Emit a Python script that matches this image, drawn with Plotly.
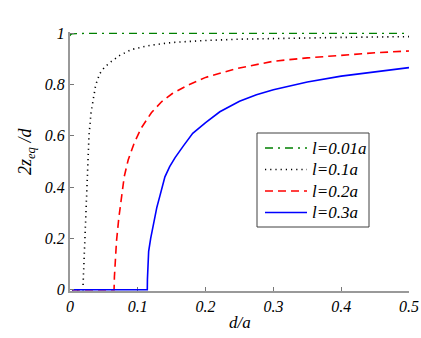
import plotly.graph_objects as go

# l = 0.01a
x_l001 = [0.0, 0.001, 0.003, 0.01, 0.05, 0.1, 0.2, 0.3, 0.4, 0.5]
y_l001 = [0.99, 0.995, 0.998, 0.999, 1.0, 1.0, 1.0, 1.0, 1.0, 1.0]

# l = 0.1a
x_l01 = [0.003, 0.019, 0.022, 0.025, 0.028, 0.031, 0.0345, 0.038, 0.044, 0.051, 0.059, 0.0735, 0.091, 0.118, 0.15, 0.2, 0.25, 0.3, 0.4, 0.5]
y_l01 = [0.0, 0.0, 0.2, 0.4, 0.6, 0.69, 0.75, 0.80, 0.843, 0.868, 0.886, 0.914, 0.937, 0.953, 0.964, 0.972, 0.977, 0.980, 0.984, 0.987]

# l = 0.2a
x_l02 = [0.003, 0.065, 0.0655, 0.0665, 0.0686, 0.072, 0.076, 0.080, 0.0858, 0.0946, 0.105, 0.12, 0.135, 0.151, 0.174, 0.2, 0.245, 0.3, 0.35, 0.4, 0.45, 0.5]
y_l02 = [0.0, 0.0, 0.05, 0.1, 0.19, 0.28, 0.37, 0.441, 0.506, 0.571, 0.63, 0.69, 0.733, 0.765, 0.798, 0.828, 0.862, 0.891, 0.904, 0.915, 0.924, 0.931]

# l = 0.3a
x_l03 = [0.003, 0.114, 0.1142, 0.1145, 0.116, 0.119, 0.124, 0.128, 0.133, 0.14, 0.147, 0.155, 0.167, 0.181, 0.2, 0.221, 0.25, 0.275, 0.3, 0.35, 0.4, 0.45, 0.5]
y_l03 = [0.0, 0.0, 0.04, 0.08, 0.15, 0.2, 0.27, 0.32, 0.37, 0.44, 0.48, 0.515, 0.56, 0.61, 0.652, 0.694, 0.735, 0.76, 0.78, 0.81, 0.833, 0.85, 0.866]

labels = ["l=0.01a", "l=0.1a", "l=0.2a", "l=0.3a"]
x_ticks = [0, 0.1, 0.2, 0.3, 0.4, 0.5]
x_tick_text = ["0", "0.1", "0.2", "0.3", "0.4", "0.5"]
y_ticks = [0, 0.2, 0.4, 0.6, 0.8, 1]
y_tick_text = ["0", "0.2", "0.4", "0.6", "0.8", "1"]
x_title = "<i>d/a</i>"
y_title = "<i>2z<sub>eq</sub> /d</i>"

serif = "Liberation Serif, Times New Roman, Times, serif"

styles = [
    dict(color="#008000", width=1.3, dash="8px,5px,2px,5px"),
    dict(color="#000000", width=1.6, dash="1.2px,4px"),
    dict(color="#ff0000", width=1.6, dash="8px,5px"),
    dict(color="#0000ff", width=1.6),
]
xs = [x_l001, x_l01, x_l02, x_l03]
ys = [y_l001, y_l01, y_l02, y_l03]

W, H = 421, 338
ML, MR, MT, MB = 70, 12, 32, 47
PW, PH = W - ML - MR, H - MT - MB


def px_x(p):
    return (p - ML) / PW


def px_y(p):
    return (H - MB - p) / PH


fig = go.Figure()
for x, y, lab, st in zip(xs, ys, labels, styles):
    fig.add_trace(go.Scatter(x=x, y=y, mode="lines", name=lab, line=st, showlegend=False))

# legend drawn manually (box, line samples, labels)
shapes = [dict(type="rect", xref="paper", yref="paper",
               x0=px_x(257), x1=px_x(369), y0=px_y(227), y1=px_y(133),
               line=dict(color="#404040", width=1), fillcolor="white", layer="above")]
annotations = []
row_y = [148, 169.5, 191, 212.5]
for lab, st, ry in zip(labels, styles, row_y):
    shapes.append(dict(type="line", xref="paper", yref="paper",
                       x0=px_x(265), x1=px_x(307), y0=px_y(ry), y1=px_y(ry),
                       line=dict(color=st["color"], width=st["width"], dash=st.get("dash", "solid")),
                       layer="above"))
    annotations.append(dict(xref="paper", yref="paper", x=px_x(310), y=px_y(ry),
                            xanchor="left", yanchor="middle", showarrow=False,
                            text="<i>" + lab + "</i>",
                            font=dict(family=serif, size=17, color="#000")))

# axis titles
annotations.append(dict(xref="paper", yref="paper", x=px_x(240), y=px_y(322),
                        xanchor="center", yanchor="middle", showarrow=False,
                        text=x_title, font=dict(family=serif, size=17, color="#000")))
annotations.append(dict(xref="paper", yref="paper", x=px_x(26), y=px_y(152),
                        xanchor="center", yanchor="middle", showarrow=False, textangle=-90,
                        text=y_title, font=dict(family=serif, size=18, color="#000")))

axis_common = dict(
    showgrid=False, zeroline=False, showline=True, linecolor="#999999", linewidth=2,
    ticks="inside", ticklen=4, tickcolor="#777777", tickwidth=1,
    tickfont=dict(family=serif, size=16, color="#000000"),
    mirror=False, automargin=False,
)

fig.update_layout(
    width=W, height=H, autosize=False,
    margin=dict(l=ML, r=MR, t=MT, b=MB, autoexpand=False),
    paper_bgcolor="white", plot_bgcolor="white",
    xaxis=dict(range=[0, 0.5], tickvals=x_ticks,
               ticktext=["<i>" + t + "</i>" for t in x_tick_text],
               layer="below traces", **axis_common),
    yaxis=dict(range=[-0.005, 1.005], tickvals=y_ticks,
               ticktext=["<i>" + t + "</i>" for t in y_tick_text],
               layer="above traces", **axis_common),
    shapes=shapes,
    annotations=annotations,
    showlegend=False,
)

fig.write_html("out.html", config={"displayModeBar": False},
               post_script="document.body.style.margin='0';document.body.style.overflow='hidden';")
